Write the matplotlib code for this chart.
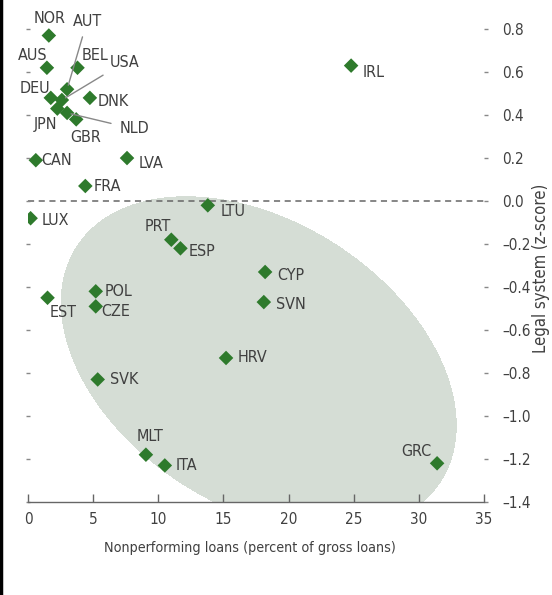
import numpy as np
import matplotlib
matplotlib.use("Agg")
import matplotlib.pyplot as plt
from matplotlib import font_manager

# fuente estrecha si existe
fm = font_manager.fontManager.ttflist
if any(f.name == 'DejaVu Sans' and f.stretch == 'condensed' for f in fm):
    plt.rcParams['font.family'] = ['DejaVu Sans']
    plt.rcParams['font.stretch'] = 'condensed'
elif any(f.name == 'Liberation Sans Narrow' for f in fm):
    plt.rcParams['font.family'] = ['Liberation Sans Narrow', 'DejaVu Sans']
else:
    plt.rcParams['font.family'] = ['Liberation Sans', 'DejaVu Sans']

# datos
countries = ['NOR', 'AUS', 'BEL', 'AUT', 'USA', 'DEU', 'DNK', 'JPN', 'NLD', 'GBR',
             'CAN', 'LVA', 'FRA', 'LUX', 'LTU', 'PRT', 'ESP', 'CYP', 'SVN', 'POL',
             'CZE', 'EST', 'HRV', 'SVK', 'MLT', 'ITA', 'IRL', 'GRC']
npl = [1.6, 1.45, 3.8, 3.0, 2.6, 1.75, 4.75, 2.25, 3.0, 3.7,
       0.6, 7.6, 4.4, 0.2, 13.8, 11.0, 11.7, 18.2, 18.1, 5.2,
       5.2, 1.5, 15.2, 5.35, 9.05, 10.5, 24.8, 31.4]
legal = [0.77, 0.62, 0.62, 0.52, 0.47, 0.48, 0.48, 0.43, 0.41, 0.38,
         0.19, 0.20, 0.07, -0.08, -0.02, -0.18, -0.22, -0.33, -0.47, -0.42,
         -0.49, -0.45, -0.73, -0.83, -1.18, -1.23, 0.63, -1.22]

x_ticks = [0, 5, 10, 15, 20, 25, 30, 35]
y_ticks = [0.8, 0.6, 0.4, 0.2, 0.0, -0.2, -0.4, -0.6, -0.8, -1.0, -1.2, -1.4]

shade_x = [8.6, 6.06, 3.99, 2.99, 2.69, 2.84, 3.76, 5.30, 7.29, 9.36, 11.9, 14.2,
           13.2, 16.3, 18.6, 21.1, 23.7, 26.2, 28.8, 30.9, 32.2, 32.8, 32.6, 31.8, 30.6]
shade_y = [-0.01, -0.06, -0.19, -0.34, -0.50, -0.65, -0.80, -0.96, -1.08, -1.20, -1.30, -1.40,
           0.0, 0.0, -0.05, -0.11, -0.20, -0.33, -0.48, -0.65, -0.82, -1.01, -1.16, -1.29, -1.40]

# posición de las etiquetas (desplazamiento en píxeles)
label_offsets = {
    'NOR': (1, 17), 'AUT': (20, 68), 'AUS': (-14, 12), 'BEL': (17, 12),
    'USA': (63, 38), 'DEU': (-16, 9), 'DNK': (23, -4), 'JPN': (-12, -16),
    'NLD': (67, -16), 'GBR': (9, -18), 'CAN': (21, 0), 'LVA': (24, -5),
    'FRA': (22, -1), 'LUX': (25, -2), 'LTU': (25, -6), 'PRT': (-14, 13),
    'ESP': (22, -3), 'CYP': (26, -4), 'SVN': (27, -2), 'POL': (23, 0),
    'CZE': (20, -5), 'EST': (16, -15), 'HRV': (26, 0), 'SVK': (26, 0),
    'MLT': (4, 18), 'ITA': (22, 0), 'IRL': (23, -7), 'GRC': (-21, 12),
}
leader_lines = ['AUT', 'USA', 'NLD']

green = '#2e7a2c'
text_col = '#404040'
fs = 11.5

W, H = 552, 595
fig = plt.figure(figsize=(W / 100, H / 100), dpi=100)
ax = fig.add_axes([28 / W, 1 - 502 / H, 456 / W, 495.5 / H])
ax.set_xlim(0, 35)
ax.set_ylim(-1.4, 0.905)

# ajuste de una cónica al contorno y relleno de su interior
sx, sy = 13.03, 215.0
u = np.array(shade_x) * sx
v = np.array(shade_y) * sy
M = np.column_stack([u**2, u * v, v**2, u, v])
coef = np.linalg.lstsq(M, np.ones_like(u), rcond=None)[0]

def conic(x, y):
    uu, vv = x * sx, y * sy
    return coef[0]*uu**2 + coef[1]*uu*vv + coef[2]*vv**2 + coef[3]*uu + coef[4]*vv - 1

sgn = np.sign(conic(np.mean(shade_x), np.mean(shade_y)))
gx, gy = np.meshgrid(np.linspace(0, 35, 700), np.linspace(-1.45, 0.9, 700))
G = sgn * conic(gx, gy)
ax.contourf(gx, gy, G, levels=[0, G.max() + 1], colors=['#d5ddd5'], zorder=0)

ax.axhline(0, color='#666666', lw=1.1, ls=(0, (4, 3)), zorder=1)

ax.scatter(npl, legal, marker='D', s=55, color=green, edgecolor='none', zorder=3)

for name, x, y in zip(countries, npl, legal):
    ox, oy = label_offsets[name]
    arrow = None
    if name in leader_lines:
        arrow = dict(arrowstyle='-', color='#888888', lw=1.0, shrinkA=4, shrinkB=3)
    ax.annotate(name, (x, y), xytext=(ox, oy), textcoords='offset pixels',
                ha='center', va='center', fontsize=fs, color=text_col,
                arrowprops=arrow, annotation_clip=False, zorder=4)

# ejes
for s in ['top', 'left', 'right']:
    ax.spines[s].set_visible(False)
ax.spines['bottom'].set_color('#666666')
ax.spines['bottom'].set_linewidth(1.0)
ax.set_xticks(x_ticks)
ax.tick_params(axis='x', direction='in', length=6, width=1, color='#666666',
               labelsize=11, labelcolor=text_col, pad=7)

ax.set_yticks(y_ticks)
ax.set_yticklabels([f'{v:.1f}'.replace('-', '\u2013') for v in y_ticks])
ax.yaxis.tick_right()
ax.tick_params(axis='y', right=True, left=True, labelleft=False, direction='out',
               length=3, width=1, color='#888888', labelsize=11,
               labelcolor=text_col, pad=10)
for tick in ax.yaxis.get_major_ticks():
    tick.tick1line.set_marker('_')
ax.patch.set_visible(False)

fig.text(250 / W, 1 - 548 / H, 'Nonperforming loans (percent of gross loans)',
         ha='center', va='center', fontsize=10.3, color=text_col)
fig.text(541 / W, 1 - 268 / H, 'Legal system (z-score)', rotation=90,
         ha='center', va='center', fontsize=12, color=text_col)

# borde izquierdo de la imagen
fig.add_artist(plt.Line2D([1 / W, 1 / W], [2 / H, 1], color='black', lw=2.5,
                          transform=fig.transFigure))

fig.savefig('out.png', dpi=100)
